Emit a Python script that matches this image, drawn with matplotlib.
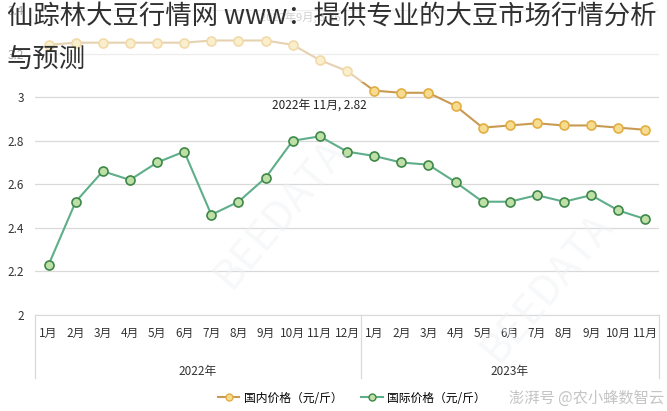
import numpy as np
import matplotlib
matplotlib.use('Agg')
import matplotlib.pyplot as plt
from matplotlib.lines import Line2D
from matplotlib.patches import Rectangle

plt.rcParams['font.family'] = ['Noto Sans CJK SC', 'DejaVu Sans']
plt.rcParams['axes.unicode_minus'] = False

months = ['1月', '2月', '3月', '4月', '5月', '6月', '7月', '8月', '9月', '10月', '11月', '12月',
          '1月', '2月', '3月', '4月', '5月', '6月', '7月', '8月', '9月', '10月', '11月']
years = ['2022年', '2023年']
year_counts = [12, 11]
domestic = [3.24, 3.25, 3.25, 3.25, 3.25, 3.25, 3.26, 3.26, 3.26, 3.24, 3.17, 3.12,
            3.03, 3.02, 3.02, 2.96, 2.86, 2.87, 2.88, 2.87, 2.87, 2.86, 2.85]
intl = [2.23, 2.52, 2.66, 2.62, 2.70, 2.75, 2.46, 2.52, 2.63, 2.80, 2.82, 2.75,
        2.73, 2.70, 2.69, 2.61, 2.52, 2.52, 2.55, 2.52, 2.55, 2.48, 2.44]
yticks = [2, 2.2, 2.4, 2.6, 2.8, 3, 3.2, 3.4]
title = '仙踪林大豆行情网 www：提供专业的大豆市场行情分析\n与预测'

W, H = 667, 411
fig = plt.figure(figsize=(W / 100, H / 100), dpi=100)
# plot area in pixels: x 35..659, y 10..315
ax = fig.add_axes([35 / W, 1 - 315 / H, (659 - 35) / W, (315 - 10) / H])

x = np.arange(len(months))
ax.plot(x, domestic, color='#C99A52', lw=1.5, marker='o', ms=6.5,
        mfc='#F6DC90', mec='#E3AE42', mew=1.2, zorder=3)
ax.plot(x, intl, color='#5FAE8A', lw=1.5, marker='o', ms=6.5,
        mfc='#BEE0A6', mec='#3D8748', mew=1.2, zorder=3)

ax.set_xlim(-0.5, len(months) - 0.5)
ax.set_ylim(2, 3.4)
ax.set_yticks(yticks)
ax.set_yticklabels([f'{v:g}' for v in yticks], fontsize=8.5, color='#333333')
ax.tick_params(axis='y', length=0, pad=8)
ax.set_xticks([])
ax.grid(axis='y', color='#D9D9D9', lw=0.9)
ax.set_axisbelow(True)
for s in ['top', 'right', 'left']:
    ax.spines[s].set_visible(False)
ax.spines['bottom'].set_color('#D9D9D9')

# two-level category axis
tr = ax.get_xaxis_transform()
for i, m in enumerate(months):
    ax.text(i, -0.062, m, transform=tr, ha='center', va='center', fontsize=8.5, color='#333333')
start = 0
bounds = [-0.5]
for yr, n in zip(years, year_counts):
    ax.text(start + (n - 1) / 2, -0.185, yr, transform=tr, ha='center', va='center',
            fontsize=8.5, color='#333333')
    start += n
    bounds.append(start - 0.5)
for b in bounds:
    ax.add_line(Line2D([b, b], [0, -0.205], transform=tr, color='#D9D9D9', lw=0.9, clip_on=False))

ax.annotate('2022年 11月, 2.82', (10, 2.82), xytext=(0, 18), textcoords='offset points',
            ha='center', va='bottom', fontsize=8.5, color='#222222')

# legend
handles = [Line2D([], [], color='#C99A52', lw=1.5, marker='o', ms=5, mfc='#F6DC90', mec='#E3AE42'),
           Line2D([], [], color='#5FAE8A', lw=1.5, marker='o', ms=5, mfc='#BEE0A6', mec='#3D8748')]
fig.legend(handles, ['国内价格（元/斤）', '国际价格（元/斤）'], loc='center',
           bbox_to_anchor=(352 / W, 1 - 398 / H), ncol=2, frameon=False, fontsize=8.5,
           handlelength=1.8, handletextpad=0.4, columnspacing=1.6)

# faint watermarks
fig.text(0.42, 0.48, 'BEEDATA', rotation=50, fontsize=30, color='#EEF1F5', alpha=0.5,
         ha='center', va='center', zorder=0)
fig.text(0.82, 0.30, 'BEEDATA', rotation=50, fontsize=30, color='#EEF1F5', alpha=0.5,
         ha='center', va='center', zorder=0)
fig.text(0.995, 1 - 398 / H, '澎湃号 @农小蜂数智云', ha='right', va='center',
         fontsize=11, color='#C4C4C4')

# title overlay on top of the chart
fig.patches.append(Rectangle((0, 1 - 82 / H), 1, 82 / H, transform=fig.transFigure,
                             facecolor='white', alpha=0.55, edgecolor='none', zorder=5))
fig.text(300 / W, 1 - 17 / H, '2022年9月, 3.26', fontsize=8, color='#D0D0D0',
         ha='center', va='center', zorder=6)
fig.text(7 / W, 1 - 4 / H, title, fontsize=19, color='#303030', ha='left', va='top',
         linespacing=1.75, fontweight='light', zorder=7)

fig.savefig('out.png', dpi=100)
